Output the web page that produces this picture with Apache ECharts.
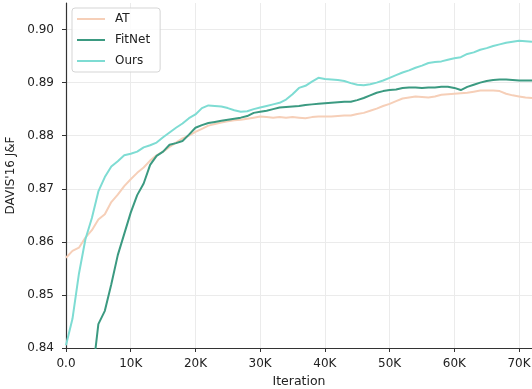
<!DOCTYPE html>
<html>
<head>
<meta charset="utf-8">
<script src="https://cdn.jsdelivr.net/npm/echarts@6/dist/echarts.min.js"></script>
<style>html,body{margin:0;padding:0;background:#fff;}#c{width:532px;height:389px;}</style>
</head>
<body>
<div id="c"></div>
<script>
// iterations (in thousands)
const iterK = [0,1,2,3,4,5,6,7,8,9,10,11,12,13,14,15,16,17,18,19,20,21,22,23,24,25,26,27,28,29,30,31,32,33,34,35,36,37,38,39,40,41,42,43,44,45,46,47,48,49,50,51,52,53,54,55,56,57,58,59,60,61,62,63,64,65,66,67,68,69,70,71,72];

const atValues = [0.8570,0.8583,0.8589,0.8608,0.8622,0.8642,0.8652,0.8675,0.8689,0.8705,0.8718,0.8730,0.8740,0.8753,0.8763,0.8770,0.8779,0.8787,0.8795,0.8800,0.8807,0.8813,0.8819,0.8822,0.8825,0.8827,0.8829,0.8830,0.8832,0.8834,0.8836,0.8835,0.8834,0.8835,0.8834,0.8835,0.8834,0.8833,0.8835,0.8836,0.8836,0.8836,0.8837,0.8838,0.8838,0.8841,0.8843,0.8847,0.8851,0.8856,0.8860,0.8865,0.8870,0.8872,0.8874,0.8873,0.8872,0.8874,0.8877,0.8878,0.8879,0.8880,0.8881,0.8883,0.8885,0.8885,0.8885,0.8884,0.8879,0.8876,0.8874,0.8872,0.8871];

const fitnetValues = [null,null,null,null,0.8340,0.8445,0.8470,0.8520,0.8575,0.8615,0.8655,0.8688,0.8710,0.8745,0.8762,0.8770,0.8783,0.8786,0.8790,0.8802,0.8815,0.8820,0.8824,0.8826,0.8828,0.8830,0.8832,0.8834,0.8837,0.8843,0.8845,0.8847,0.8850,0.8853,0.8854,0.8855,0.8856,0.8858,0.8859,0.8860,0.8861,0.8862,0.8863,0.8864,0.8864,0.8867,0.8871,0.8876,0.8881,0.8884,0.8886,0.8887,0.8890,0.8891,0.8891,0.8890,0.8891,0.8891,0.8892,0.8892,0.8890,0.8886,0.8892,0.8896,0.8900,0.8903,0.8905,0.8906,0.8906,0.8905,0.8904,0.8904,0.8904];

const oursValues = [0.8405,0.8455,0.8540,0.8605,0.8645,0.8695,0.8722,0.8742,0.8752,0.8763,0.8766,0.8770,0.8778,0.8782,0.8787,0.8797,0.8806,0.8815,0.8823,0.8833,0.8840,0.8852,0.8857,0.8856,0.8855,0.8852,0.8848,0.8845,0.8846,0.8850,0.8853,0.8856,0.8859,0.8862,0.8868,0.8878,0.8890,0.8894,0.8902,0.8909,0.8907,0.8906,0.8905,0.8903,0.8899,0.8896,0.8895,0.8897,0.8900,0.8904,0.8909,0.8914,0.8919,0.8923,0.8928,0.8932,0.8937,0.8939,0.8940,0.8943,0.8946,0.8948,0.8954,0.8957,0.8962,0.8965,0.8969,0.8972,0.8975,0.8977,0.8979,0.8978,0.8977];

const seriesNames = ['AT','FitNet','Ours'];
const seriesColors = ['#f6cfb8','#3b9a81','#7edcd3'];

function pairs(vals){ return iterK.map((k,i)=>[k*1000, vals[i]]); }

const chart = echarts.init(document.getElementById('c'), null, {renderer:'canvas'});
const font = 'DejaVu Sans';
chart.setOption({
  animation:false,
  backgroundColor:'#fff',
  textStyle:{fontFamily:font},
  grid:{left:66,right:0,top:3,bottom:41,outerBoundsMode:'none',containLabel:false},
  legend:{
    left:72, top:8, orient:'vertical',
    data:seriesNames,
    itemWidth:28, itemHeight:10, itemGap:9,
    padding:[5,10,5,5],
    borderColor:'#d5d5d5', borderWidth:1, borderRadius:3,
    backgroundColor:'rgba(255,255,255,0.85)',
    textStyle:{fontFamily:font,fontSize:12,color:'#222',padding:[0,0,0,5]},
    icon:'path://M0,4 L28,4 L28,6 L0,6 Z'
  },
  xAxis:{
    type:'value', min:0, max:72000, interval:10000,
    name:'Iteration', nameLocation:'middle', nameGap:27,
    nameTextStyle:{fontFamily:font,fontSize:12.5,color:'#222'},
    axisLine:{show:true,lineStyle:{color:'#333',width:1.2}},
    axisTick:{show:true,length:4,lineStyle:{color:'#333'}},
    axisLabel:{fontFamily:font,fontSize:12,color:'#222',margin:10,showMaxLabel:false,
      formatter:v=> v===0 ? '0.0' : (v/1000)+'K'},
    splitLine:{show:true,showMaxLine:false,lineStyle:{color:'#ebebeb',width:1}}
  },
  yAxis:{
    type:'value', min:0.84, max:0.905, interval:0.01,
    name:"DAVIS'16 J&F", nameLocation:'middle', nameGap:43,
    nameTextStyle:{fontFamily:font,fontSize:12,color:'#222'},
    axisLine:{show:true,lineStyle:{color:'#333',width:1.2}},
    axisTick:{show:true,length:4,lineStyle:{color:'#333'}},
    axisLabel:{fontFamily:font,fontSize:12,color:'#222',margin:12,showMaxLabel:false,
      formatter:v=> v.toFixed(2)},
    splitLine:{show:true,showMaxLine:false,lineStyle:{color:'#ebebeb',width:1}}
  },
  series:[
    {name:'AT',type:'line',data:pairs(atValues),symbol:'none',lineStyle:{width:2,color:seriesColors[0]},itemStyle:{color:seriesColors[0]},clip:true},
    {name:'FitNet',type:'line',data:pairs(fitnetValues),symbol:'none',connectNulls:false,lineStyle:{width:2,color:seriesColors[1]},itemStyle:{color:seriesColors[1]},clip:true},
    {name:'Ours',type:'line',data:pairs(oursValues),symbol:'none',lineStyle:{width:2,color:seriesColors[2]},itemStyle:{color:seriesColors[2]},clip:true}
  ]
});
</script>
</body>
</html>
